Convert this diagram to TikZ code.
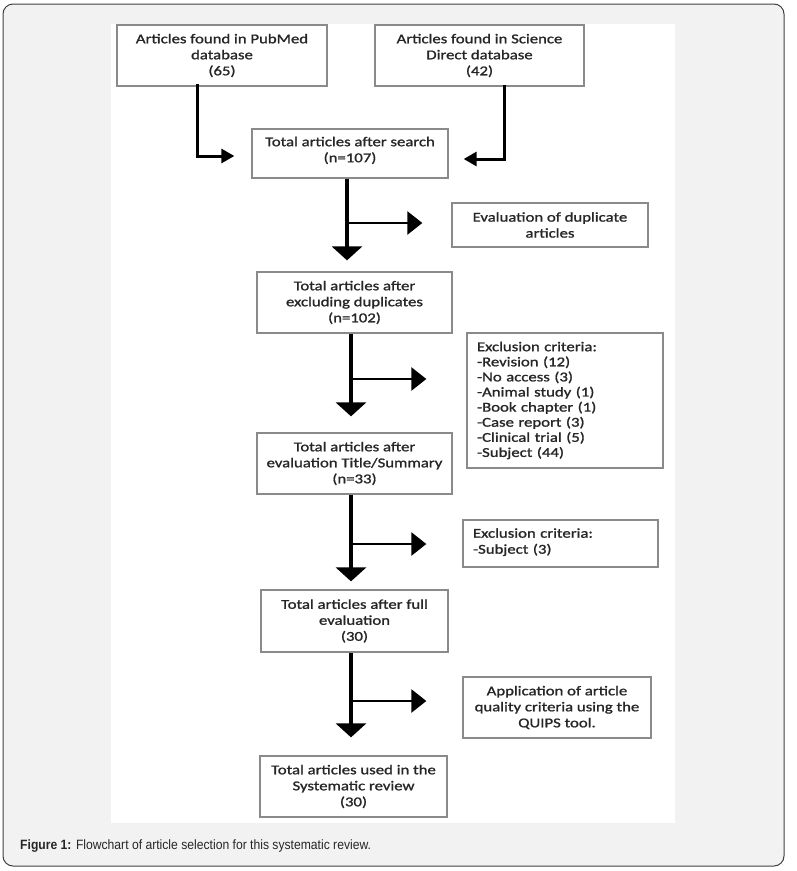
\documentclass[tikz,border=0pt]{standalone}
\usepackage{fontspec}
\setmainfont{Carlito}[FakeStretch=1.24,FakeBold=1.2]
\newfontfamily\capfont{Liberation Sans}[FakeStretch=0.9]
\usetikzlibrary{arrows.meta,positioning,calc}
\definecolor{framebg}{HTML}{F2F2F2}
\definecolor{boxline}{HTML}{8A8A8A}
\definecolor{txt}{HTML}{262626}
\begin{document}
\begin{tikzpicture}[x=1pt,y=-1pt,
  box/.style={draw=boxline,line width=1.3pt,fill=white,align=center,text=txt,
    font=\fontsize{13.5}{16}\selectfont,inner sep=3pt},
  lbox/.style={box,align=left,inner xsep=10pt},
  trunk/.style={line width=3.6pt,-{Triangle[length=14pt,width=30pt]}},
  side/.style={line width=2.6pt,-{Triangle[length=15pt,width=23pt]}},
  elbow/.style={line width=3pt,-{Triangle[length=13pt,width=14pt]}},
]
\useasboundingbox (0,0) rectangle (796,871);
\draw[draw=black!75,line width=1pt,fill=framebg,rounded corners=10pt] (3,4) rectangle (784,866);
\fill[white] (111,24) rectangle (675,823);

\node[box,minimum width=210,minimum height=61] (pubmed) at (222,55.5) {Articles found in PubMed\\database\\(65)};
\node[box,minimum width=209,minimum height=61] (sd) at (479.5,55.5) {Articles found in Science\\Direct database\\(42)};
\node[box,minimum width=196,minimum height=49] (search) at (350,153.5) {Total articles after search\\(n=107)\\[-8pt]\mbox{}};
\node[box,minimum width=196,minimum height=44] (dup) at (550,225) {Evaluation of duplicate\\articles};
\node[box,minimum width=195,minimum height=61] (exdup) at (354.5,302.5) {Total articles after\\excluding duplicates\\(n=102)};
\node[lbox,text width=176,minimum height=135,font=\fontsize{13.5}{15.1}\selectfont] (crit) at (565,400.5) {Exclusion criteria:\\-Revision (12)\\-No access (3)\\-Animal study (1)\\-Book chapter (1)\\-Case report (3)\\-Clinical trial (5)\\-Subject (44)};
\node[box,minimum width=195,minimum height=61] (title) at (354.5,463.5) {Total articles after\\evaluation Title/Summary\\(n=33)};
\node[lbox,text width=175,minimum height=47] (subj) at (560.5,543.5) {Exclusion criteria:\\-Subject (3)\\[-11pt]\mbox{}};
\node[box,minimum width=187,minimum height=62] (full) at (354.5,621) {Total articles after full\\evaluation\\(30)};
\node[box,minimum width=188,minimum height=61] (app) at (557,707.5) {Application of article\\quality criteria using the\\QUIPS tool.};
\node[box,minimum width=187,minimum height=61] (used) at (353.5,786.5) {Total articles used in the\\Systematic review\\(30)};

% elbows from the databases
\draw[elbow,shorten >=17pt] ([xshift=-25pt,yshift=3pt]pubmed.south) |- ([yshift=-2.5pt]search.west);
\draw[elbow,shorten >=15pt] ([xshift=24.5pt,yshift=2pt]sd.south) |- ([yshift=-5.5pt]search.east);

% trunks
\coordinate (t1) at ([xshift=-3pt]search.south);
\draw[trunk,shorten >=11pt] (t1) -- (t1 |- exdup.north);
\coordinate (t2) at ([xshift=-3.5pt]exdup.south);
\draw[trunk,shorten >=16pt] (t2) -- (t2 |- title.north);
\coordinate (t3) at ([xshift=-3.5pt]title.south);
\draw[trunk,shorten >=8pt] (t3) -- (t3 |- full.north);
\coordinate (t4) at ([xshift=-3.5pt]full.south);
\draw[trunk,shorten >=18pt] (t4) -- (t4 |- used.north);

% side branches
\coordinate (b1) at (347,223);
\draw[side,shorten >=29pt] (b1) -- (b1 -| dup.west);
\coordinate (b2) at (351,379);
\draw[side,shorten >=40pt] (b2) -- (b2 -| crit.west);
\coordinate (b3) at (351,544);
\draw[side,shorten >=36pt] (b3) -- (b3 -| subj.west);
\coordinate (b4) at (351,701);
\draw[side,shorten >=36pt] (b4) -- (b4 -| app.west);

\node[anchor=west,inner sep=0pt,font=\capfont\fontsize{13.5}{15}\selectfont,text=black!85] (cap) at (20,846)
  {\textbf{Figure 1:} Flowchart of article selection for this systematic review.};
\end{tikzpicture}
\end{document}
